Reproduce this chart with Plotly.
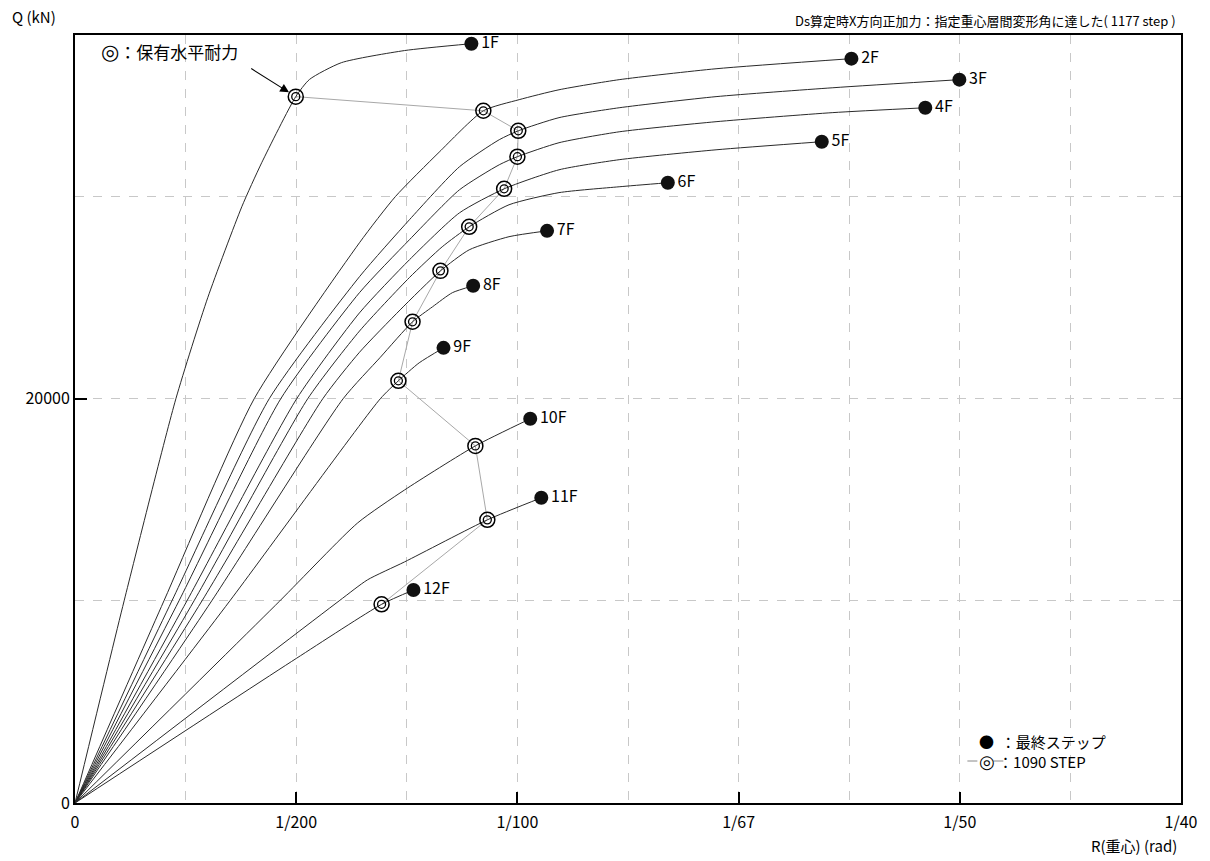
import plotly.graph_objects as go

# ---------------- data (R: rad, Q: kN) ----------------
stories = ["1F", "2F", "3F", "4F", "5F", "6F", "7F", "8F", "9F", "10F", "11F", "12F"]

r_1f = [0, 0.00111, 0.00228, 0.0030, 0.00377, 0.00422, 0.00499, 0.0053, 0.00602, 0.00745, 0.00896]
q_1f = [0, 10000, 20000, 25000, 29500, 31680, 34950, 35800, 36630, 37230, 37570]

r_2f = [0, 0.00201, 0.00405, 0.00643, 0.00724, 0.00823, 0.00923, 0.01004, 0.01094, 0.0123, 0.01449, 0.01755]
q_2f = [0, 10000, 20000, 27720, 30000, 32200, 34250, 34800, 35290, 35790, 36330, 36830]

r_3f = [0, 0.00219, 0.00439, 0.00643, 0.00756, 0.00869, 0.00959, 0.01002, 0.01094, 0.0123, 0.01449, 0.01713, 0.01999]
q_3f = [0, 10000, 20000, 26040, 28860, 31480, 32820, 33260, 33910, 34400, 34950, 35390, 35790]

r_4f = [0, 0.00235, 0.00465, 0.00643, 0.00756, 0.00869, 0.00959, 0.0100, 0.01094, 0.0123, 0.01449, 0.01713, 0.01922]
q_4f = [0, 10000, 20000, 25250, 27870, 30340, 31580, 31980, 32670, 33210, 33710, 34160, 34400]

r_5f = [0, 0.00253, 0.00501, 0.00643, 0.00756, 0.00869, 0.0097, 0.01094, 0.0123, 0.01449, 0.01688]
q_5f = [0, 10000, 20000, 24250, 26880, 29200, 30390, 31330, 31830, 32320, 32720]

r_6f = [0, 0.00269, 0.00526, 0.00643, 0.00756, 0.0083, 0.00891, 0.00981, 0.01094, 0.0123, 0.0134]
q_6f = [0, 10000, 20000, 23350, 26000, 27520, 28510, 29600, 30200, 30490, 30690]

r_7f = [0, 0.00287, 0.0056, 0.00643, 0.00735, 0.00826, 0.00891, 0.00981, 0.01067]
q_7f = [0, 10000, 20000, 22300, 24400, 26330, 27370, 28020, 28310]

r_8f = [0, 0.00309, 0.00606, 0.00690, 0.00763, 0.00808, 0.00853, 0.0090]
q_8f = [0, 10000, 20000, 22050, 23810, 24550, 25250, 25590]

r_9f = [0, 0.0035, 0.0069, 0.00731, 0.00778, 0.00833]
q_9f = [0, 10000, 20000, 20890, 21780, 22520]

r_10f = [0, 0.00463, 0.00639, 0.00745, 0.00905, 0.01029]
q_10f = [0, 10000, 13860, 15490, 17670, 19010]

r_11f = [0, 0.00597, 0.00661, 0.00745, 0.00932, 0.01054]
q_11f = [0, 10000, 11040, 11930, 14010, 15100]

r_12f = [0, 0.0050, 0.00693, 0.00765]
q_12f = [0, 7150, 9830, 10540]

# index of the 1090 STEP point (保有水平耐力) in each curve
hold_idx = [6, 6, 7, 7, 6, 6, 5, 4, 3, 4, 4, 2]

x_tickvals = [0, 0.005, 0.010, 0.015, 0.020, 0.025]
x_ticktext = ["0", "1/200", "1/100", "1/67", "1/50", "1/40"]
y_tickvals = [0, 20000]
y_ticktext = ["0", "20000"]

curves_r = [r_1f, r_2f, r_3f, r_4f, r_5f, r_6f, r_7f, r_8f, r_9f, r_10f, r_11f, r_12f]
curves_q = [q_1f, q_2f, q_3f, q_4f, q_5f, q_6f, q_7f, q_8f, q_9f, q_10f, q_11f, q_12f]

hold_r = [r[i] for r, i in zip(curves_r, hold_idx)]
hold_q = [q[i] for q, i in zip(curves_q, hold_idx)]
end_r = [r[-1] for r in curves_r]
end_q = [q[-1] for q in curves_q]

NARROW = "Liberation Sans Narrow, Noto Sans CJK JP, sans-serif"
CJK = "Noto Sans CJK JP, sans-serif"


def dbl(size):
    return '<span style="font-family:DejaVu Sans;font-size:%dpx;font-weight:bold">◎</span>' % size


fig = go.Figure()

# grey line joining the 1090 STEP points
fig.add_trace(go.Scatter(x=hold_r, y=hold_q, mode="lines",
                         line=dict(color="#a8a8a8", width=1), showlegend=False, hoverinfo="skip"))

# story curves
for name, r, q in zip(stories, curves_r, curves_q):
    fig.add_trace(go.Scatter(x=r, y=q, mode="lines",
                             line=dict(color="#2a2a2a", width=1, shape="spline", smoothing=0.6),
                             showlegend=False, name=name))

# double circle markers
fig.add_trace(go.Scatter(x=hold_r, y=hold_q, mode="markers",
                         marker=dict(symbol="circle-open", size=15, color="black", line=dict(width=1.5, color="black")),
                         showlegend=False, hoverinfo="skip"))
fig.add_trace(go.Scatter(x=hold_r, y=hold_q, mode="markers",
                         marker=dict(symbol="circle-open", size=8, color="black", line=dict(width=1.3, color="black")),
                         showlegend=False, hoverinfo="skip"))

# final-step dots with labels
fig.add_trace(go.Scatter(x=end_r, y=end_q, mode="markers+text", text=stories,
                         textposition="middle right",
                         textfont=dict(family=NARROW, size=16, color="black"),
                         marker=dict(symbol="circle", size=14, color="#111111"),
                         showlegend=False))

def px_x(px):
    return (px - 75) / 1108.0

def px_y(py):
    return (803 - py) / 768.0

annotations = [
    dict(text="Ds算定時X方向正加力：指定重心層間変形角に達した( 1177 step )",
         xref="paper", yref="paper", x=px_x(1180), y=px_y(20), xanchor="right", yanchor="middle",
         showarrow=False, font=dict(family=CJK, size=13, color="black")),
    dict(text="Q (kN)", xref="paper", yref="paper", x=px_x(10), y=px_y(16),
         xanchor="left", yanchor="middle", showarrow=False, font=dict(family=NARROW, size=15, color="black")),
    dict(text="R(重心) (rad)", xref="paper", yref="paper", x=px_x(1181), y=px_y(845),
         xanchor="right", yanchor="middle", showarrow=False, font=dict(family=NARROW, size=15, color="black")),
    dict(text=dbl(21) + "：保有水平耐力", xref="paper", yref="paper", x=px_x(99), y=px_y(51),
         xanchor="left", yanchor="middle", showarrow=False, font=dict(family=CJK, size=17, color="black")),
    dict(text="", x=hold_r[0], y=hold_q[0], xref="x", yref="y", showarrow=True,
         ax=-46, ay=-29, arrowhead=2, arrowsize=1.6, arrowwidth=1.1, arrowcolor="black", standoff=8),
    # legend (one text block, two lines)
    dict(text="●  ：最終ステップ<br>" + dbl(18) + " ：1090 STEP", xref="paper", yref="paper",
         x=px_x(979), y=px_y(751), xanchor="left", yanchor="middle", align="left",
         showarrow=False, font=dict(family=CJK, size=15, color="black")),
]

shapes = [
    dict(type="line", xref="paper", yref="paper", x0=px_x(969), x1=px_x(979), y0=px_y(761), y1=px_y(761),
         line=dict(color="#888888", width=1)),
    dict(type="line", xref="paper", yref="paper", x0=px_x(995), x1=px_x(1005), y0=px_y(761), y1=px_y(761),
         line=dict(color="#888888", width=1)),
]

grid = dict(gridcolor="#c8c8c8", gridwidth=1, griddash="dash")

fig.update_layout(
    width=1210, height=861,
    margin=dict(l=75, r=27, t=35, b=58),
    paper_bgcolor="white", plot_bgcolor="white",
    font=dict(family=NARROW, size=16, color="black"),
    showlegend=False,
    annotations=annotations,
    shapes=shapes,
    xaxis=dict(range=[0, 0.025], tickvals=x_tickvals, ticktext=x_ticktext,
               showline=True, linecolor="black", linewidth=1.5, mirror=True,
               ticks="inside", ticklen=11, tickwidth=1.5, tickcolor="black",
               showgrid=True, zeroline=False, ticklabelstandoff=4,
               tickfont=dict(family=NARROW, size=16),
               minor=dict(dtick=0.0025, tick0=0, showgrid=True, ticks="", **grid),
               **grid),
    yaxis=dict(range=[0, 38000], tickvals=y_tickvals, ticktext=y_ticktext,
               showline=True, linecolor="black", linewidth=2, mirror=True,
               ticks="inside", ticklen=12, tickwidth=1.5, tickcolor="black",
               showgrid=True, zeroline=False,
               tickfont=dict(family=NARROW, size=16),
               minor=dict(dtick=10000, tick0=0, showgrid=True, ticks="", **grid),
               **grid),
)

fig.write_html("out.html", config={"displayModeBar": False})
